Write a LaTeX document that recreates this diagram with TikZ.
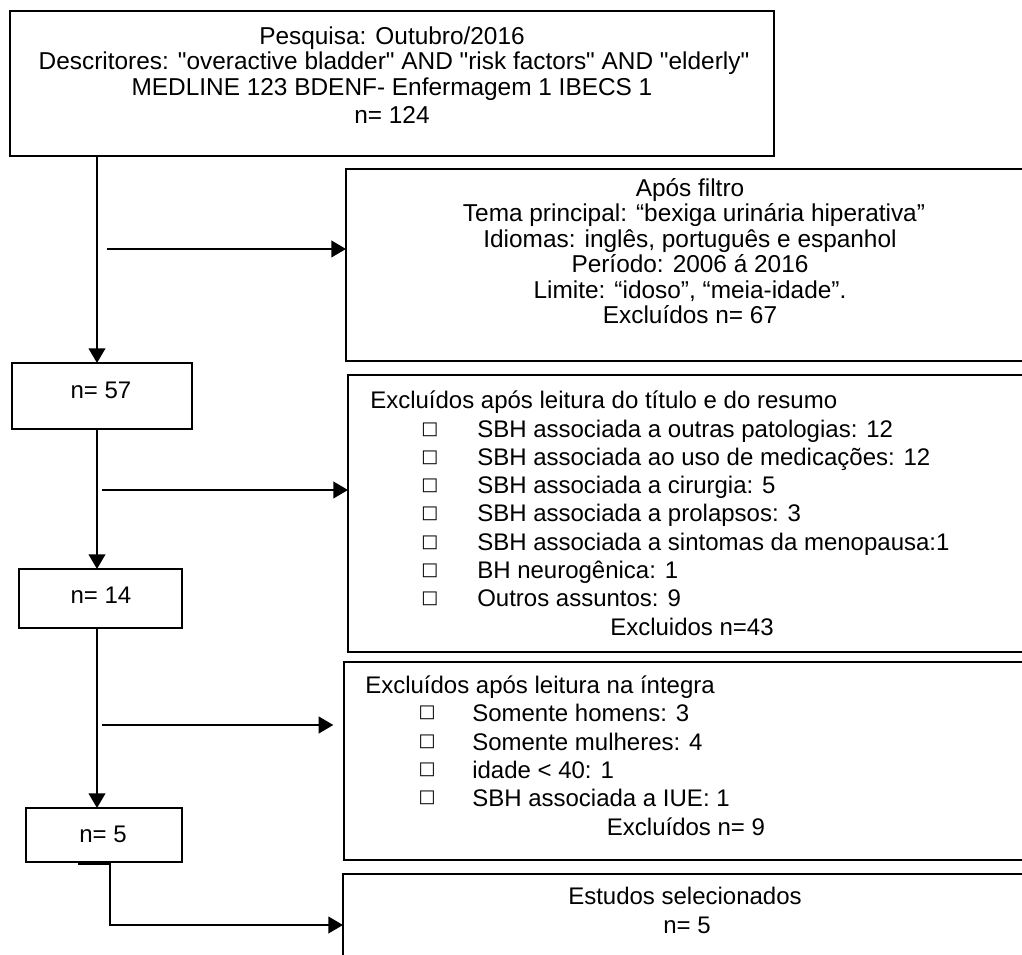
\documentclass[tikz,border=0pt]{standalone}
\usepackage{fontspec}
\setmainfont{Liberation Sans}[Ligatures=TeXOff]
\newfontfamily\symfont{DejaVu Sans}
\usetikzlibrary{arrows.meta}
\begin{document}
\begin{tikzpicture}[x=0.75pt,y=-0.75pt,
  box/.style={draw, line width=1.5pt, anchor=north west, inner sep=0pt, outer sep=0pt},
  txt/.style={inner sep=0pt, anchor=base, yshift=-6pt, font=\fontsize{18}{21}\selectfont},
  btxt/.style={txt, font=\fontsize{18.3}{21}\selectfont},
  ltxt/.style={txt, anchor=base west},
  bul/.style={inner sep=0pt, anchor=center, font=\symfont\fontsize{13.5}{13.5}\selectfont},
  arr/.style={line width=1.5pt, -{Triangle[length=11pt,width=12.5pt]}},
  ln/.style={line width=1.5pt}]
\useasboundingbox (0,0) rectangle (1022,955);
\clip (0,0) rectangle (1022,955);
% boxes
\node[box, minimum width=573pt, minimum height=108.75pt] (top) at (10,11) {};
\node[box, minimum width=514.5pt, minimum height=144pt] (filt) at (346,169) {};
\node[box, minimum width=135pt, minimum height=49.5pt] (n57) at (12,363) {};
\node[box, minimum width=513pt, minimum height=207.75pt] (ex1) at (348,375) {};
\node[box, minimum width=122.25pt, minimum height=44.25pt] (n14) at (19,569) {};
\node[box, minimum width=514.5pt, minimum height=148.5pt] (ex2) at (344,662) {};
\node[box, minimum width=117pt, minimum height=40.5pt] (n5) at (26,808) {};
\node[box, minimum width=515.25pt, minimum height=90pt] (fin) at (343,874) {};
% top box text
\node[btxt] (t1) at (392,37) {Pesquisa: Outubro/2016};
\node[btxt] (t2) at (394,62) {Descritores: "overactive bladder" AND "risk factors" AND "elderly"};
\node[btxt] (t3) at (392,88) {MEDLINE 123 BDENF- Enfermagem 1 IBECS 1};
\node[btxt] (t4) at (392,116) {n= 124};
% filter box text
\node[btxt] (f1) at (690,189) {Após filtro};
\node[btxt] (f2) at (694,214) {Tema principal: “bexiga urinária hiperativa”};
\node[btxt] (f3) at (690,240) {Idiomas: inglês, português e espanhol};
\node[btxt] (f4) at (690,265) {Período: 2006 á 2016};
\node[btxt] (f5) at (690,291) {Limite: “idoso”, “meia-idade”.};
\node[btxt] (f6) at (690,316) {Excluídos n= 67};
% count boxes text
\node[txt] (c57) at (101,391) {n= 57};
\node[txt] (c14) at (101,596) {n= 14};
\node[txt] (c5) at (103,834) {n= 5};
% excluded 1
\node[ltxt] (e1h) at (370,401) {Excluídos após leitura do título e do resumo};
\foreach \y/\t [count=\i] in {430/SBH associada a outras patologias: 12,
  458/SBH associada ao uso de medicações: 12,
  486/SBH associada a cirurgia: 5,
  514/SBH associada a prolapsos: 3,
  543/SBH associada a sintomas da menopausa:1,
  571/BH neurogênica: 1,
  599/Outros assuntos: 9}{
  \node[bul] (e1b\i) at (430,\y) {□};
  \node[ltxt] (e1i\i) at (477,\y) {\t};
}
\node[txt] (e1n) at (692,627) {Excluidos n=43};
% excluded 2
\node[ltxt] (e2h) at (365,685) {Excluídos após leitura na íntegra};
\foreach \y/\t [count=\i] in {713/Somente homens: 3,
  742/Somente mulheres: 4,
  770/idade < 40: 1,
  798/SBH associada a IUE: 1}{
  \node[bul] (e2b\i) at (427,\y) {□};
  \node[ltxt] (e2i\i) at (472,\y) {\t};
}
\node[txt] (e2n) at (686,827) {Excluídos n= 9};
% final
\node[txt] (s1) at (685,896) {Estudos selecionados};
\node[txt] (s2) at (687,925) {n= 5};
% connectors
\coordinate (v1) at (97,0);
\draw[arr] (top.south -| v1) -- (n57.north -| v1);
\draw[arr] (n57.south -| v1) -- (n14.north -| v1);
\draw[arr] (n14.south -| v1) -- (n5.north -| v1);
\coordinate (h1) at (107,249);
\draw[arr] (h1) -- (h1 -| filt.west);
\coordinate (h2) at (102,490);
\draw[arr] (h2) -- (h2 -| ex1.west);
\coordinate (h3) at (102,725);
\draw[arr] (h3) -- ([xshift=-8pt]h3 -| ex2.west);
\coordinate (v4) at (110,925);
\draw[arr] (n5.south -| v4) |- (fin.west |- v4);
\draw[line width=2.6pt] ([xshift=39pt,yshift=-0.8pt]n5.south west) -- ([xshift=63pt,yshift=-0.8pt]n5.south west);
\end{tikzpicture}
\end{document}
